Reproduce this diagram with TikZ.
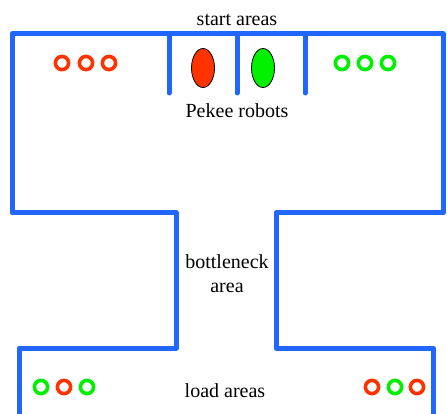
\documentclass[tikz,border=0pt]{standalone}
\usepackage{fontspec}
\setmainfont{Liberation Serif}
\definecolor{wall}{RGB}{32,102,255}
\definecolor{pred}{RGB}{255,51,0}
\definecolor{pgreen}{RGB}{0,240,0}
\begin{document}
\begin{tikzpicture}[x=1pt,y=-1pt,line join=round,line cap=round,font=\fontsize{20}{24}\selectfont,
  wallline/.style={draw=wall,line width=5pt},
  goal/.style={line width=3.6pt}]
\useasboundingbox (0,0) rectangle (447,414);
\def \yt{34}\def \ym{213}\def \yb{348}
% arena walls
\draw[wallline] (19,416)--(19,\yb)--(176,\yb)--(176,\ym)--(12,\ym)--(12,\yt)--(443,\yt)
  --(443,\ym)--(276,\ym)--(276,\yb)--(433,\yb)--(433,416);
\foreach \x in {169,237,305} \draw[wallline] (\x,\yt)--(\x,93);
% robots
\draw[fill=pred,line width=0.8pt] (203,68) ellipse (11.5pt and 19.5pt);
\draw[fill=pgreen,line width=0.8pt] (263,68) ellipse (11.5pt and 19.5pt);
% start and load areas
\foreach \x in {62,86,109} \draw[goal,pred] (\x,63) circle (6.6pt);
\foreach \x in {342,365,388} \draw[goal,pgreen] (\x,63) circle (6.6pt);
\foreach \x/\c in {41/pgreen,64/pred,87/pgreen,372/pred,395/pgreen,417/pred}
  \draw[goal,\c] (\x,387) circle (6.6pt);
\node (start) at (237,20) {start areas};
\node (robots) at (237,111) {Pekee robots};
\node[align=center] (neck) at (227,274) {bottleneck\\area};
\node (load) at (225,391) {load areas};
\end{tikzpicture}
\end{document}
